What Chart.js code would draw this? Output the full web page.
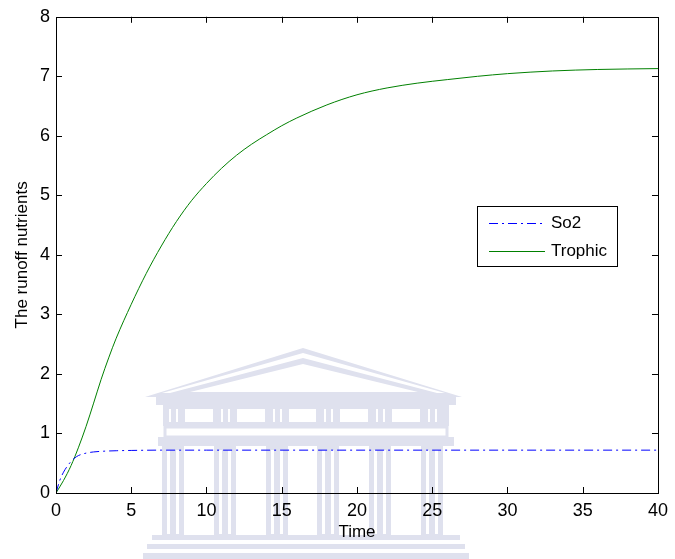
<!DOCTYPE html>
<html>
<head>
<meta charset="utf-8">
<script src="https://cdn.jsdelivr.net/npm/chart.js@4.4.0/dist/chart.umd.min.js"></script>
<style>
    html, body { margin: 0; padding: 0; background: #fff; }
    #wrap { width: 675px; height: 559px; }
</style>
</head>
<body>
<div id="wrap"><canvas id="chart" width="675" height="559"></canvas></div>
<script>
// --- Data ---
const timeSo2 = [0, 0.25, 0.5, 0.75, 1, 1.25, 1.5, 2, 2.5, 3, 4, 5, 7, 10, 20, 30, 40];
const so2Values = [0, 0.21, 0.35, 0.45, 0.53, 0.59, 0.63, 0.67, 0.69, 0.70, 0.71, 0.715, 0.72, 0.72, 0.72, 0.72, 0.72];

const timeTrophic = [0, 0.5, 1, 1.5, 2, 2.5, 3, 3.5, 4, 5, 6, 7, 8, 9, 10, 11, 12, 13, 14, 15, 16, 18, 20, 22, 24, 26, 28, 30, 33, 36, 40];
const trophicValues = [0, 0.21, 0.46, 0.77, 1.12, 1.51, 1.91, 2.27, 2.60, 3.17, 3.69, 4.15, 4.56, 4.91, 5.2, 5.455, 5.675, 5.86, 6.02, 6.17, 6.30, 6.52, 6.69, 6.805, 6.885, 6.945, 7.0, 7.045, 7.09, 7.115, 7.13];

const xTicks = [0, 5, 10, 15, 20, 25, 30, 35, 40];
const yTicks = [0, 1, 2, 3, 4, 5, 6, 7, 8];

const toPoints = (xs, ys) => xs.map((x, i) => ({ x: x, y: ys[i] }));

// faint building watermark behind the plot
const watermark = {
    id: 'watermark',
    beforeDraw(chart) {
        const ctx = chart.ctx;
        const c = '#dfe1ee';
        ctx.save();
        // roof
        ctx.fillStyle = c;
        ctx.beginPath(); ctx.moveTo(145, 397); ctx.lineTo(303, 348); ctx.lineTo(462, 397); ctx.closePath(); ctx.fill();
        ctx.fillStyle = '#fff';
        ctx.beginPath(); ctx.moveTo(162, 393); ctx.lineTo(303, 353); ctx.lineTo(445, 393); ctx.closePath(); ctx.fill();
        ctx.fillStyle = c;
        ctx.beginPath(); ctx.moveTo(170, 393); ctx.lineTo(303, 358); ctx.lineTo(437, 393); ctx.closePath(); ctx.fill();
        ctx.fillStyle = '#fff';
        ctx.beginPath(); ctx.moveTo(190, 392); ctx.lineTo(303, 364); ctx.lineTo(418, 392); ctx.closePath(); ctx.fill();
        // cornice + frieze
        ctx.fillStyle = c;
        ctx.fillRect(156, 397, 300, 8);
        ctx.fillRect(163, 405, 286, 21);
        const cols = [173, 225, 277, 328, 380, 432];
        ctx.fillStyle = '#fff';
        for (let i = 0; i < cols.length - 1; i++) {
            ctx.fillRect(cols[i] + 12, 409, cols[i + 1] - cols[i] - 24, 13);
        }
        cols.forEach(cx => { ctx.fillRect(cx - 4, 409, 2, 13); ctx.fillRect(cx + 3, 409, 2, 13); });
        // architrave + capitals
        ctx.strokeStyle = c; ctx.lineWidth = 3;
        ctx.strokeRect(165, 427, 282, 10);
        ctx.fillStyle = c;
        ctx.fillRect(158, 437, 296, 9);
        // columns
        cols.forEach(cx => {
            ctx.fillStyle = c;
            ctx.fillRect(cx - 11, 446, 22, 90);
            ctx.fillStyle = '#fff';
            ctx.fillRect(cx - 6, 450, 3, 84);
            ctx.fillRect(cx + 3, 450, 3, 84);
        });
        // steps
        ctx.fillStyle = c;
        ctx.fillRect(152, 535, 308, 5);
        ctx.fillRect(147, 544, 318, 5);
        ctx.fillRect(143, 553, 326, 6);
        ctx.restore();
    }
};

// MATLAB-like box, inward ticks and boxed legend
const boxAxes = {
    id: 'boxAxes',
    afterDraw(chart) {
        const ctx = chart.ctx;
        const a = chart.chartArea;
        const xs = chart.scales.x, ys = chart.scales.y;
        const tl = 6;
        ctx.save();
        ctx.strokeStyle = '#000';
        ctx.lineWidth = 1;
        ctx.beginPath();
        xTicks.slice(1, -1).forEach(v => {
            const px = Math.round(xs.getPixelForValue(v)) + 0.5;
            ctx.moveTo(px, a.bottom); ctx.lineTo(px, a.bottom - tl);
            ctx.moveTo(px, a.top); ctx.lineTo(px, a.top + tl);
        });
        yTicks.slice(1, -1).forEach(v => {
            const py = Math.round(ys.getPixelForValue(v)) + 0.5;
            ctx.moveTo(a.left, py); ctx.lineTo(a.left + tl, py);
            ctx.moveTo(a.right, py); ctx.lineTo(a.right - tl, py);
        });
        ctx.stroke();
        ctx.strokeRect(Math.round(a.left) + 0.5, Math.round(a.top) + 0.5,
                       Math.round(a.right - a.left), Math.round(a.bottom - a.top));

        // legend
        const lx = 477.5, ly = 206.5, lw = 140, lh = 60;
        ctx.fillStyle = '#fff';
        ctx.fillRect(lx, ly, lw, lh);
        ctx.strokeRect(lx, ly, lw, lh);
        ctx.font = '17px "Liberation Sans", Arial, sans-serif';
        ctx.textBaseline = 'middle';
        chart.data.datasets.forEach((ds, i) => {
            const y = 223.5 + i * 28;
            ctx.strokeStyle = ds.borderColor;
            ctx.lineWidth = ds.borderWidth;
            ctx.setLineDash(ds.borderDash || []);
            ctx.beginPath(); ctx.moveTo(489, y); ctx.lineTo(545, y); ctx.stroke();
            ctx.setLineDash([]);
            ctx.fillStyle = '#000';
            ctx.fillText(ds.label, 551, y);
        });
        ctx.restore();
    }
};

const font = { family: '"Liberation Sans", Arial, sans-serif', size: 18 };

new Chart(document.getElementById('chart'), {
    type: 'line',
    data: {
        datasets: [
            {
                label: 'So2',
                data: toPoints(timeSo2, so2Values),
                borderColor: '#0000ff',
                borderWidth: 1,
                borderDash: [9, 4, 2, 4],
                pointRadius: 0,
                cubicInterpolationMode: 'monotone',
                fill: false
            },
            {
                label: 'Trophic',
                data: toPoints(timeTrophic, trophicValues),
                borderColor: '#008000',
                borderWidth: 1,
                pointRadius: 0,
                cubicInterpolationMode: 'monotone',
                fill: false
            }
        ]
    },
    options: {
        responsive: false,
        animation: false,
        layout: { padding: { left: 0, top: 14, right: 12, bottom: 0 } },
        plugins: {
            legend: { display: false },
            tooltip: { enabled: false }
        },
        scales: {
            x: {
                type: 'linear',
                min: 0, max: 40,
                afterBuildTicks: s => { s.ticks = xTicks.map(v => ({ value: v })); },
                afterFit: s => { s.height = 66; },
                ticks: { color: '#000', font: font, padding: 7, maxRotation: 0 },
                grid: { display: false, drawTicks: false },
                border: { display: false },
                title: {
                    display: true, text: 'Time', color: '#000',
                    font: { family: font.family, size: 17 },
                    padding: { top: 0, bottom: 16 }
                }
            },
            y: {
                min: 0, max: 8,
                afterBuildTicks: s => { s.ticks = yTicks.map(v => ({ value: v })); },
                afterFit: s => { s.width = 56; },
                ticks: { color: '#000', font: font, padding: 6 },
                grid: { display: false, drawTicks: false },
                border: { display: false },
                title: {
                    display: true, text: 'The runoff nutrients', color: '#000',
                    font: { family: font.family, size: 17 },
                    padding: { top: 12, bottom: 0 }
                }
            }
        }
    },
    plugins: [watermark, boxAxes]
});
</script>
</body>
</html>
